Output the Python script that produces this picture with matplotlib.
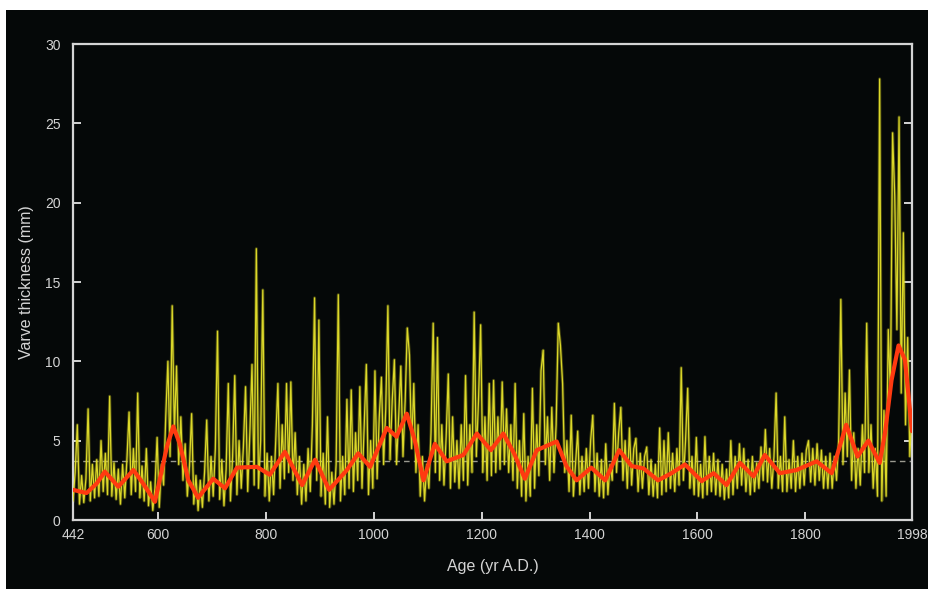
import matplotlib
matplotlib.use("Agg")
import matplotlib.pyplot as plt
from matplotlib.patches import Rectangle
import numpy as np

# ---------------- data ----------------
# annual varve thickness, sampled every 4 years starting at 442 A.D.
varve_start = 442
varve_step = 4
varve_mm = [
    # 442-538
    1.2, 3.0, 6.0, 1.0, 2.8, 1.1, 2.6, 7.0, 1.2, 3.5, 1.4, 3.8, 1.5, 5.0, 1.8, 4.2, 1.6, 7.8, 1.5, 3.6, 1.3, 3.2, 1.0, 3.5, 1.4,
    # 542-638
    3.8, 6.8, 1.6, 4.5, 1.8, 8.0, 1.4, 3.4, 1.2, 4.5, 0.9, 2.4, 0.6, 2.0, 5.2, 0.8, 3.5, 2.2, 6.5, 10.0, 4.0, 13.5, 5.5, 9.7, 3.5,
    # 642-738
    6.5, 2.5, 4.8, 1.5, 3.4, 6.7, 1.0, 2.8, 0.6, 2.5, 0.8, 3.0, 6.3, 1.2, 4.0, 1.5, 4.5, 11.9, 1.3, 3.8, 0.9, 3.2, 8.6, 1.2, 4.0,
    # 742-838
    9.1, 1.6, 5.0, 2.0, 4.6, 8.4, 1.8, 5.5, 9.8, 2.2, 17.1, 2.0, 5.0, 14.5, 1.5, 4.2, 1.2, 4.0, 1.6, 5.0, 8.6, 2.0, 6.0, 2.6, 8.6,
    # 842-938
    3.0, 8.7, 2.5, 5.5, 1.6, 4.0, 1.0, 3.5, 1.2, 4.5, 1.8, 6.0, 14.0, 2.5, 12.6, 1.5, 4.2, 1.0, 6.5, 0.8, 3.0, 1.0, 3.5, 14.2, 1.2,
    # 942-1038
    4.0, 1.6, 7.6, 2.0, 8.2, 1.8, 5.5, 2.5, 8.4, 2.0, 6.0, 9.8, 1.6, 5.0, 2.0, 9.4, 2.6, 6.5, 9.0, 3.5, 7.0, 13.5, 3.8, 7.5, 10.1,
    # 1042-1138
    3.5, 6.5, 9.7, 4.0, 7.5, 12.1, 10.4, 4.5, 8.6, 3.0, 6.0, 1.5, 4.0, 1.2, 3.5, 2.0, 5.5, 12.4, 3.0, 11.5, 2.5, 6.0, 2.2, 5.2, 9.2,
    # 1142-1238
    2.0, 6.5, 2.4, 5.0, 2.0, 6.0, 2.5, 9.1, 2.2, 6.0, 3.0, 13.1, 4.0, 7.5, 12.3, 3.0, 6.5, 2.5, 8.6, 2.8, 8.8, 3.0, 6.5, 3.2, 8.7,
    # 1242-1338
    3.5, 7.0, 3.0, 6.0, 2.5, 8.6, 2.0, 5.0, 1.5, 6.7, 1.2, 4.0, 1.5, 8.3, 2.0, 6.0, 2.8, 9.4, 10.7, 3.5, 6.5, 2.5, 7.1, 3.0, 6.0,
    # 1342-1438
    12.4, 11.0, 8.6, 3.0, 5.0, 1.8, 6.6, 1.5, 3.5, 5.6, 1.6, 4.0, 1.8, 4.5, 2.0, 5.0, 6.6, 1.8, 4.2, 1.5, 3.8, 1.4, 4.8, 1.6, 3.5,
    # 1442-1538
    2.5, 7.35, 3.0, 5.5, 7.1, 2.5, 5.0, 2.0, 5.8, 2.2, 4.5, 5.15, 1.8, 4.2, 2.0, 4.0, 4.6, 1.6, 3.8, 1.5, 3.5, 1.4, 5.8, 1.6, 5.0,
    # 1542-1638
    1.8, 5.5, 2.0, 4.2, 1.8, 4.5, 2.2, 9.6, 2.5, 5.0, 8.3, 2.0, 4.0, 1.6, 5.2, 1.5, 3.5, 1.4, 5.25, 1.6, 4.0, 1.8, 4.2, 1.6, 3.8,
    # 1642-1738
    1.5, 3.5, 1.3, 3.2, 1.4, 5.0, 1.6, 4.0, 2.0, 4.8, 2.2, 4.5, 1.8, 3.8, 1.6, 4.0, 1.8, 3.6, 2.0, 4.6, 2.5, 5.7, 2.4, 4.5, 2.0,
    # 1742-1838
    4.0, 8.0, 2.0, 4.0, 1.8, 6.5, 1.8, 3.8, 2.0, 5.0, 1.8, 4.0, 2.0, 4.2, 2.2, 4.4, 5.0, 2.4, 4.5, 2.2, 4.8, 2.5, 4.4, 2.0, 4.0,
    # 1842-1938
    2.0, 4.2, 2.0, 4.0, 2.5, 5.0, 13.9, 3.5, 8.0, 4.0, 9.45, 2.5, 5.5, 2.0, 4.5, 2.2, 6.0, 3.0, 12.4, 3.0, 6.0, 2.0, 4.5, 1.5, 27.8,
    # 1942-1998
    1.2, 6.9, 1.5, 12.0, 8.0, 24.4, 20.4, 12.0, 25.4, 8.0, 18.1, 6.0, 11.5, 4.0, 7.0,
]

# smoothed record (red curve)
smooth_years = [442, 467, 486, 501, 526, 554, 572, 594, 616, 628, 640, 656, 674, 702, 724,
                746, 783, 807, 835, 867, 891, 917, 950, 971, 993, 1024, 1042, 1061, 1076,
                1092, 1113, 1135, 1166, 1191, 1217, 1240, 1260, 1280, 1302, 1339, 1357,
                1376, 1403, 1429, 1455, 1478, 1500, 1527, 1552, 1577, 1608, 1630, 1654,
                1679, 1704, 1725, 1753, 1784, 1821, 1849, 1876, 1897, 1917, 1938, 1948,
                1960, 1973, 1985, 1998]
smooth_mm = [1.9, 1.7, 2.3, 3.05, 2.1, 3.15, 2.3, 1.15, 4.6, 5.9, 4.8, 2.5, 1.4, 2.6, 2.0,
             3.3, 3.35, 2.85, 4.3, 2.2, 3.8, 1.9, 3.15, 4.2, 3.35, 5.8, 5.25, 6.7, 5.0,
             2.5, 4.8, 3.7, 4.1, 5.45, 4.4, 5.45, 4.2, 2.6, 4.4, 4.95, 3.4,
             2.5, 3.3, 2.5, 4.4, 3.4, 3.25, 2.5, 2.95, 3.5, 2.45, 2.95, 2.2,
             3.6, 2.75, 4.1, 2.95, 3.15, 3.7, 2.95, 6.0, 4.0, 5.0, 3.6, 5.5,
             8.8, 11.0, 10.1, 5.6]

mean_mm = 3.75
x_ticks = [442, 600, 800, 1000, 1200, 1400, 1600, 1800, 1998]
y_ticks = [0, 5, 10, 15, 20, 25, 30]

varve_years = varve_start + varve_step * np.arange(len(varve_mm))

# ---------------- figure ----------------
fig = plt.figure(figsize=(9.34, 5.89), dpi=100, facecolor="white")
fig.patches.append(Rectangle((6 / 934, 0), 922 / 934, 579 / 589,
                             transform=fig.transFigure, facecolor="#050808",
                             edgecolor="none", zorder=-10))

ax = fig.add_axes([73 / 934, 69 / 589, 839 / 934, 476 / 589])
ax.set_zorder(5)
ax.set_facecolor("#050808")

fg = "#d4d4d4"
ax.axhline(mean_mm, color="#9a9a90", lw=1.0, ls=(0, (4, 3)), zorder=1)
ax.plot(varve_years, varve_mm, color="#c8c41c", lw=2.2, alpha=0.35, zorder=2)
ax.plot(varve_years, varve_mm, color="#dcd82a", lw=0.9, zorder=3)
ax.plot(smooth_years, smooth_mm, color="#ff3a10", lw=3.0, zorder=4,
        solid_joinstyle="round", solid_capstyle="round")

ax.set_xlim(442, 1998)
ax.set_ylim(0, 30)
ax.set_xticks(x_ticks)
ax.set_xticklabels([str(v) for v in x_ticks])
ax.set_yticks(y_ticks)
ax.set_yticklabels([str(v) for v in y_ticks])

for s in ax.spines.values():
    s.set_color(fg)
    s.set_linewidth(1.6)

ax.tick_params(axis="both", direction="in", length=6, width=1.4, color=fg,
               labelcolor=fg, labelsize=10)
ax.tick_params(axis="y", right=True, pad=9)
ax.tick_params(axis="x", pad=6)
for lab in ax.get_xticklabels() + ax.get_yticklabels():
    lab.set_family("Liberation Sans")

ax.set_xlabel("Age (yr A.D.)", color=fg, fontsize=11.5, family="Liberation Sans", labelpad=12)
ax.set_ylabel("Varve thickness (mm)", color=fg, fontsize=11.5, family="Liberation Sans", labelpad=8)

fig.savefig("out.png", dpi=100, facecolor="white")
